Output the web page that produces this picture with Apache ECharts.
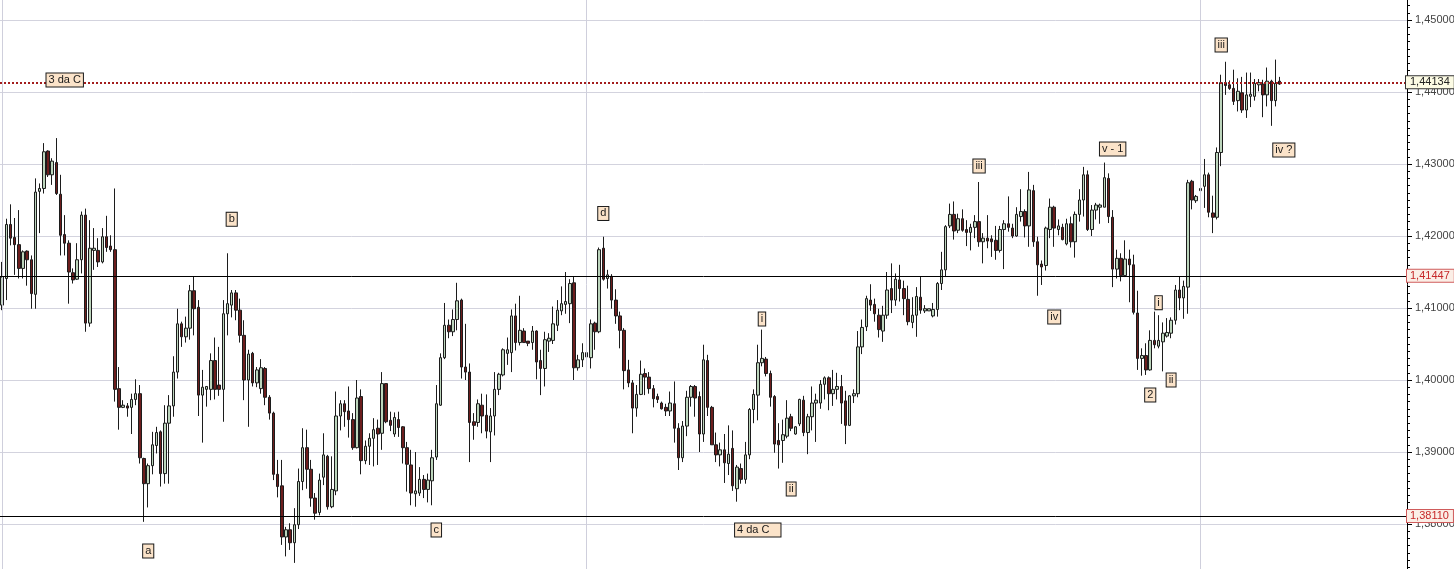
<!DOCTYPE html>
<html>
<head>
<meta charset="utf-8">
<script src="https://cdn.jsdelivr.net/npm/echarts@6/dist/echarts.min.js"></script>
<style>
html,body{margin:0;padding:0;background:#fff;}
#main{width:1454px;height:569px;}
</style>
</head>
<body>
<div id="main"></div>
<script>
// ---- DATA ----
const openP = [
1.4104,1.4141,1.4216,1.4198,1.4188,1.4155,1.4179,1.4167,1.4119,1.4262,
1.4266,1.4318,1.4285,1.4302,1.4258,1.4202,1.4190,1.4149,1.4140,1.4167,
1.4229,1.4079,1.4180,1.4180,1.4164,1.4199,1.4186,1.4181,1.3988,1.3962,
1.3964,1.3962,1.3973,1.3981,1.3891,1.3856,1.3881,1.3909,1.3928,1.3870,
1.3940,1.3964,1.4011,1.4078,1.4060,1.4072,1.4124,1.4101,1.3979,1.3987,
1.3987,1.4027,1.3993,1.3987,1.4092,1.4104,1.4121,1.4097,1.4062,1.4000,
1.4037,1.3996,1.3988,1.4016,1.3976,1.3954,1.3869,1.3853,1.3782,1.3792,
1.3774,1.3799,1.3859,1.3906,1.3876,1.3836,1.3816,1.3865,1.3894,1.3824,
1.3846,1.3950,1.3967,1.3957,1.3945,1.3906,1.3977,1.3888,1.3908,1.3919,
1.3933,1.3926,1.3995,1.3944,1.3925,1.3945,1.3935,1.3906,1.3882,1.3842,
1.3843,1.3862,1.3848,1.3860,1.3893,1.3965,1.4031,1.4076,1.4067,1.4084,
1.4111,1.4018,1.4011,1.3942,1.3941,1.3965,1.3951,1.3928,1.3950,1.3987,
1.4007,1.4037,1.4038,1.4089,1.4052,1.4068,1.4054,1.4052,1.4068,1.4027,
1.4016,1.4054,1.4055,1.4076,1.4096,1.4105,1.4106,1.4135,1.4017,1.4028,
1.4038,1.4031,1.4079,1.4067,1.4183,1.4141,1.4144,1.4111,1.4089,1.4069,
1.4014,1.3996,1.3961,1.3980,1.4009,1.4004,1.3988,1.3977,1.3968,1.3962,
1.3957,1.3967,1.3933,1.3892,1.3936,1.3976,1.3991,1.3977,1.3925,1.4027,
1.3962,1.3910,1.3896,1.3903,1.3884,1.3905,1.3849,1.3877,1.3862,1.3896,
1.3959,1.3979,1.4024,1.4029,1.4009,1.3977,1.3916,1.3916,1.3922,1.3949,
1.3925,1.3939,1.3972,1.3927,1.3949,1.3968,1.3968,1.3994,1.4003,1.3981,
1.3987,1.3991,1.3971,1.3937,1.3978,1.3981,1.4046,1.4074,1.4111,1.4105,
1.4090,1.4068,1.4090,1.4127,1.4111,1.4139,1.4127,1.4112,1.4080,1.4090,
1.4115,1.4096,1.4096,1.4089,1.4098,1.4134,1.4153,1.4214,1.4230,1.4208,
1.4224,1.4209,1.4205,1.4212,1.4220,1.4192,1.4197,1.4196,1.4194,1.4180,
1.4209,1.4217,1.4211,1.4200,1.4227,1.4234,1.4214,1.4263,1.4192,1.4161,
1.4159,1.4209,1.4240,1.4209,1.4212,1.4189,1.4217,1.4192,1.4230,1.4250,
1.4285,1.4209,1.4236,1.4240,1.4240,1.4280,1.4226,1.4154,1.4169,1.4145,
1.4168,1.4160,1.4093,1.4030,1.4034,1.4014,1.4055,1.4047,1.4053,1.4061,
1.4065,1.4083,1.4125,1.4114,1.4129,1.4276,1.4249,1.4263,1.4269,1.4285,
1.4232,1.4226,1.4316,1.4413,1.4410,1.4405,1.4388,1.4399,1.4375,1.4394,
1.4394,1.4410,1.4411,1.4396,1.4415,1.4388,1.4415
];
const closeP = [
1.4143,1.4216,1.4197,1.4188,1.4155,1.4178,1.4167,1.4120,1.4261,1.4266,
1.4317,1.4285,1.4304,1.4259,1.4201,1.4190,1.4150,1.4139,1.4167,1.4229,
1.4079,1.4183,1.4183,1.4164,1.4199,1.4184,1.4181,1.3987,1.3962,1.3965,
1.3961,1.3973,1.3981,1.3892,1.3856,1.3881,1.3910,1.3927,1.3870,1.3940,
1.3964,1.4011,1.4078,1.4060,1.4072,1.4124,1.4099,1.3979,1.3990,1.3991,
1.4027,1.3987,1.3987,1.4092,1.4106,1.4121,1.4097,1.4062,1.4000,1.4036,
1.3996,1.4014,1.4017,1.3976,1.3954,1.3869,1.3852,1.3782,1.3792,1.3774,
1.3799,1.3859,1.3906,1.3876,1.3836,1.3815,1.3861,1.3896,1.3824,1.3848,
1.3950,1.3967,1.3956,1.3945,1.3906,1.3975,1.3888,1.3908,1.3919,1.3931,
1.3925,1.3995,1.3942,1.3937,1.3948,1.3934,1.3906,1.3883,1.3843,1.3846,
1.3862,1.3848,1.3861,1.3892,1.3967,1.4031,1.4076,1.4067,1.4084,1.4110,
1.4018,1.4011,1.3941,1.3937,1.3967,1.3950,1.3929,1.3950,1.3987,1.4008,
1.4042,1.4042,1.4089,1.4052,1.4069,1.4052,1.4051,1.4068,1.4025,1.4016,
1.4056,1.4058,1.4078,1.4097,1.4106,1.4109,1.4134,1.4017,1.4028,1.4038,
1.4032,1.4078,1.4067,1.4181,1.4140,1.4146,1.4111,1.4089,1.4069,1.4013,
1.3996,1.3961,1.3980,1.4008,1.4004,1.3988,1.3974,1.3973,1.3960,1.3957,
1.3968,1.3933,1.3892,1.3936,1.3976,1.3991,1.3975,1.3925,1.4028,1.3962,
1.3910,1.3896,1.3903,1.3885,1.3897,1.3853,1.3879,1.3862,1.3896,1.3959,
1.3980,1.4024,1.4030,1.4009,1.3976,1.3911,1.3910,1.3924,1.3947,1.3933,
1.3935,1.3973,1.3927,1.3949,1.3968,1.3972,1.3994,1.4003,1.3981,1.3987,
1.3991,1.3968,1.3937,1.3978,1.3981,1.4046,1.4073,1.4113,1.4104,1.4092,
1.4070,1.4090,1.4125,1.4111,1.4140,1.4127,1.4113,1.4081,1.4090,1.4116,
1.4097,1.4099,1.4099,1.4098,1.4134,1.4153,1.4213,1.4230,1.4207,1.4224,
1.4208,1.4205,1.4212,1.4220,1.4192,1.4197,1.4193,1.4192,1.4180,1.4209,
1.4217,1.4212,1.4200,1.4230,1.4234,1.4214,1.4264,1.4192,1.4160,1.4157,
1.4211,1.4240,1.4211,1.4214,1.4195,1.4217,1.4192,1.4230,1.4250,1.4285,
1.4209,1.4236,1.4243,1.4243,1.4281,1.4227,1.4154,1.4169,1.4145,1.4168,
1.4160,1.4094,1.4030,1.4034,1.4014,1.4055,1.4049,1.4055,1.4065,1.4066,
1.4083,1.4125,1.4114,1.4130,1.4274,1.4250,1.4255,1.4266,1.4285,1.4233,
1.4226,1.4316,1.4413,1.4409,1.4405,1.4387,1.4401,1.4375,1.4396,1.4397,
1.4412,1.4413,1.4396,1.4415,1.4388,1.4412,1.4411
];
const lowP = [
1.4097,1.4111,1.4187,1.4146,1.4141,1.4141,1.4131,1.4099,1.4099,1.4204,
1.4259,1.4282,1.4271,1.4257,1.4173,1.4173,1.4106,1.4134,1.4139,1.4148,
1.4067,1.4074,1.4153,1.4157,1.4162,1.4178,1.4178,1.3970,1.3931,1.3961,
1.3949,1.3925,1.3965,1.3884,1.3803,1.3823,1.3869,1.3898,1.3852,1.3856,
1.3856,1.3949,1.4002,1.4046,1.4052,1.4056,1.4062,1.3950,1.3913,1.3963,
1.3972,1.3973,1.3978,1.3942,1.4062,1.4087,1.4083,1.4052,1.3972,1.3935,
1.3991,1.3990,1.3981,1.3965,1.3945,1.3861,1.3837,1.3771,1.3755,1.3764,
1.3746,1.3793,1.3847,1.3849,1.3824,1.3806,1.3812,1.3854,1.3820,1.3822,
1.3840,1.3930,1.3935,1.3920,1.3903,1.3905,1.3869,1.3883,1.3882,1.3880,
1.3882,1.3903,1.3940,1.3929,1.3921,1.3921,1.3884,1.3845,1.3826,1.3824,
1.3839,1.3836,1.3830,1.3826,1.3889,1.3964,1.4029,1.4058,1.4061,1.4069,
1.4002,1.4000,1.3886,1.3917,1.3935,1.3926,1.3919,1.3886,1.3923,1.3979,
1.4005,1.4021,1.4011,1.4041,1.4048,1.4052,1.4047,1.4042,1.4001,1.3979,
1.3991,1.4039,1.4050,1.4068,1.4090,1.4092,1.4079,1.4000,1.4013,1.4018,
1.4000,1.4016,1.4042,1.4065,1.4138,1.4127,1.4099,1.4078,1.4044,1.3987,
1.3990,1.3926,1.3949,1.3979,1.3979,1.3981,1.3962,1.3968,1.3959,1.3950,
1.3950,1.3913,1.3875,1.3886,1.3922,1.3963,1.3949,1.3900,1.3914,1.3950,
1.3910,1.3886,1.3880,1.3857,1.3868,1.3846,1.3831,1.3856,1.3856,1.3890,
1.3940,1.3944,1.4019,1.4005,1.3963,1.3899,1.3877,1.3885,1.3919,1.3929,
1.3924,1.3936,1.3922,1.3897,1.3930,1.3914,1.3960,1.3973,1.3958,1.3964,
1.3973,1.3939,1.3911,1.3936,1.3968,1.3976,1.4036,1.4068,1.4096,1.4081,
1.4059,1.4053,1.4085,1.4093,1.4103,1.4109,1.4090,1.4076,1.4072,1.4060,
1.4092,1.4093,1.4096,1.4087,1.4088,1.4125,1.4143,1.4211,1.4195,1.4204,
1.4206,1.4186,1.4180,1.4197,1.4185,1.4162,1.4183,1.4171,1.4167,1.4177,
1.4154,1.4206,1.4197,1.4199,1.4220,1.4198,1.4185,1.4185,1.4117,1.4132,
1.4152,1.4197,1.4185,1.4201,1.4194,1.4187,1.4184,1.4170,1.4220,1.4227,
1.4207,1.4200,1.4223,1.4217,1.4240,1.4218,1.4129,1.4141,1.4137,1.4143,
1.4108,1.4091,1.4014,1.4006,1.4007,1.4013,1.4044,1.4044,1.4012,1.4059,
1.4058,1.4077,1.4097,1.4085,1.4092,1.4237,1.4246,1.4260,1.4239,1.4226,
1.4204,1.4223,1.4297,1.4396,1.4403,1.4382,1.4373,1.4371,1.4364,1.4379,
1.4388,1.4401,1.4365,1.4380,1.4353,1.4380,1.4410
];
const highP = [
1.4164,1.4224,1.4244,1.4225,1.4236,1.4180,1.4180,1.4173,1.4280,1.4273,
1.4329,1.4319,1.4308,1.4336,1.4285,1.4229,1.4194,1.4155,1.4190,1.4234,
1.4238,1.4222,1.4211,1.4197,1.4211,1.4228,1.4201,1.4266,1.4018,1.3972,
1.3968,1.3981,1.4001,1.3993,1.3892,1.3884,1.3928,1.3935,1.3930,1.3965,
1.3979,1.4033,1.4099,1.4081,1.4088,1.4132,1.4144,1.4111,1.4014,1.3991,
1.4037,1.4059,1.4046,1.4111,1.4176,1.4125,1.4125,1.4113,1.4083,1.4042,
1.4039,1.4018,1.4029,1.4018,1.3979,1.3956,1.3889,1.3889,1.3796,1.3801,
1.3822,1.3877,1.3933,1.3931,1.3889,1.3843,1.3870,1.3926,1.3896,1.3894,
1.3984,1.3972,1.3972,1.3991,1.3954,1.4000,1.3987,1.3916,1.3926,1.3947,
1.3945,1.4011,1.3995,1.3956,1.3955,1.3956,1.3936,1.3914,1.3903,1.3900,
1.3879,1.3868,1.3870,1.3903,1.3993,1.4037,1.4107,1.4084,1.4098,1.4135,
1.4113,1.4078,1.4023,1.3954,1.3973,1.3981,1.3980,1.3961,1.4011,1.4010,
1.4044,1.4059,1.4098,1.4106,1.4117,1.4072,1.4054,1.4075,1.4069,1.4042,
1.4067,1.4065,1.4102,1.4111,1.4130,1.4150,1.4140,1.4143,1.4035,1.4051,
1.4044,1.4084,1.4081,1.4184,1.4199,1.4153,1.4147,1.4126,1.4095,1.4072,
1.4028,1.4000,1.3993,1.4027,1.4016,1.4011,1.3993,1.3981,1.3970,1.3967,
1.3984,1.3998,1.3940,1.3943,1.3985,1.3993,1.3993,1.3984,1.4049,1.4035,
1.3964,1.3927,1.3913,1.3925,1.3937,1.3930,1.3882,1.3884,1.3914,1.3961,
1.3987,1.4049,1.4070,1.4032,1.4013,1.3979,1.3940,1.3945,1.3972,1.3953,
1.3936,1.3974,1.3978,1.3953,1.3991,1.3981,1.4000,1.4005,1.4005,1.4014,
1.4010,1.4007,1.3985,1.3979,1.3987,1.4068,1.4084,1.4117,1.4133,1.4113,
1.4099,1.4103,1.4150,1.4162,1.4148,1.4160,1.4138,1.4131,1.4115,1.4129,
1.4143,1.4104,1.4099,1.4107,1.4136,1.4178,1.4215,1.4245,1.4248,1.4231,
1.4237,1.4222,1.4217,1.4229,1.4275,1.4204,1.4229,1.4201,1.4214,1.4214,
1.4222,1.4255,1.4217,1.4240,1.4265,1.4237,1.4289,1.4271,1.4199,1.4166,
1.4213,1.4252,1.4242,1.4223,1.4217,1.4224,1.4227,1.4234,1.4265,1.4296,
1.4291,1.4243,1.4246,1.4245,1.4302,1.4287,1.4236,1.4181,1.4176,1.4194,
1.4181,1.4174,1.4124,1.4044,1.4051,1.4069,1.4095,1.4090,1.4080,1.4086,
1.4087,1.4132,1.4144,1.4138,1.4278,1.4278,1.4257,1.4276,1.4307,1.4288,
1.4256,1.4323,1.4424,1.4442,1.4416,1.4431,1.4419,1.4421,1.4427,1.4427,
1.4418,1.4418,1.4417,1.4434,1.4417,1.4445,1.4421
];
// total slots on the time axis (last ones are empty space before the price scale)
const slotCount = 337;
// horizontal reference levels
const levelBlack = [1.41447, 1.38110];
const levelRed = 1.44134;
// vertical separators (bar index)
const separators = [0, 140, 287];
// wave annotations
const annoText  = ['3 da C','a','b','c','d','i','ii','4 da C','iii','iv','v - 1','2','i','ii','iii','iv ?'];
const annoIndex = [15, 35, 55, 104, 144, 182, 189, 181, 234, 252, 266, 275, 277, 280, 292, 307];
const annoPrice = [1.44167, 1.37625, 1.42232, 1.37917, 1.42313, 1.40847, 1.38486, 1.37917, 1.42972, 1.40875, 1.43208, 1.39792, 1.41074, 1.40000, 1.44653, 1.43194];

// ---- CHART ----
const categories = Array.from({length: slotCount}, (_, i) => String(i));
const candles = openP.map((o, i) => [o, closeP[i], lowP[i], highP[i]]);
const fmt = v => Number(v).toFixed(5).replace('.', ',');
const FONT = '"Liberation Sans", Arial, sans-serif';

const markLineData = [];
separators.forEach(ix => markLineData.push({
  xAxis: ix,
  lineStyle: {color: '#cfcfdc', width: 1, type: 'solid'},
  label: {show: false}
}));
levelBlack.forEach(v => markLineData.push({
  yAxis: v,
  lineStyle: {color: '#000', width: 1, type: 'solid'},
  label: {
    show: true, position: 'end', distance: 0,
    formatter: () => fmt(v),
    color: '#c62828', fontSize: 11, fontFamily: FONT,
    backgroundColor: '#fbeee6', borderColor: '#cf5b5b', borderWidth: 1,
    padding: [1, 4, 0, 3]
  }
}));
markLineData.push({
  yAxis: levelRed,
  lineStyle: {color: '#a31d1d', width: 2, type: 'dotted'},
  label: {
    show: true, position: 'end', distance: -1,
    formatter: () => fmt(levelRed),
    color: '#222', fontSize: 11, fontFamily: FONT,
    backgroundColor: '#fcfbe4', borderColor: '#333', borderWidth: 1,
    padding: [1, 4, 0, 4]
  }
});

const markPointData = annoText.map((t, i) => {
  const item = {name: t, coord: [annoIndex[i], annoPrice[i]]};
  if (t === '4 da C') item.label = {padding: [1, 11, 0, 2]};
  return item;
});

const chart = echarts.init(document.getElementById('main'), null, {renderer: 'canvas'});
chart.setOption({
  animation: false,
  backgroundColor: '#ffffff',
  grid: {left: 0, right: 47, top: -52, bottom: -27, containLabel: false, outerBoundsMode: 'none'},
  xAxis: {
    type: 'category', data: categories, boundaryGap: true,
    axisLine: {show: false}, axisTick: {show: false}, axisLabel: {show: false}, splitLine: {show: false}
  },
  yAxis: {
    type: 'value', position: 'right', min: 1.37, max: 1.46, interval: 0.01,
    axisLine: {show: true, lineStyle: {color: '#000', width: 1}},
    axisTick: {show: true, length: 5, lineStyle: {color: '#000'}},
    minorTick: {show: true, splitNumber: 10, length: 3, lineStyle: {color: '#000'}},
    minorSplitLine: {show: false},
    axisLabel: {margin: 8, color: '#444', fontSize: 11, fontFamily: FONT, formatter: v => fmt(v)},
    splitLine: {show: true, lineStyle: {color: '#d3d3de', width: 1}}
  },
  series: [{
    type: 'candlestick',
    data: candles,
    barWidth: 3,
    itemStyle: {
      color: '#bcd5bc', color0: '#6c1d1d',
      borderColor: '#1c1c1c', borderColor0: '#1c1c1c', borderWidth: 1
    },
    markLine: {
      silent: true, symbol: ['none', 'none'], precision: 5, animation: false,
      data: markLineData
    },
    markPoint: {
      silent: true, symbol: 'rect', symbolSize: 1, animation: false,
      itemStyle: {color: 'rgba(0,0,0,0)'},
      label: {
        show: true, position: 'inside', formatter: p => p.name,
        color: '#1a1a1a', fontSize: 11, fontFamily: FONT, lineHeight: 12,
        backgroundColor: '#fbe3c9', borderColor: '#1a1a1a', borderWidth: 1,
        padding: [1, 2, 0, 2]
      },
      data: markPointData
    }
  }]
});
</script>
</body>
</html>
